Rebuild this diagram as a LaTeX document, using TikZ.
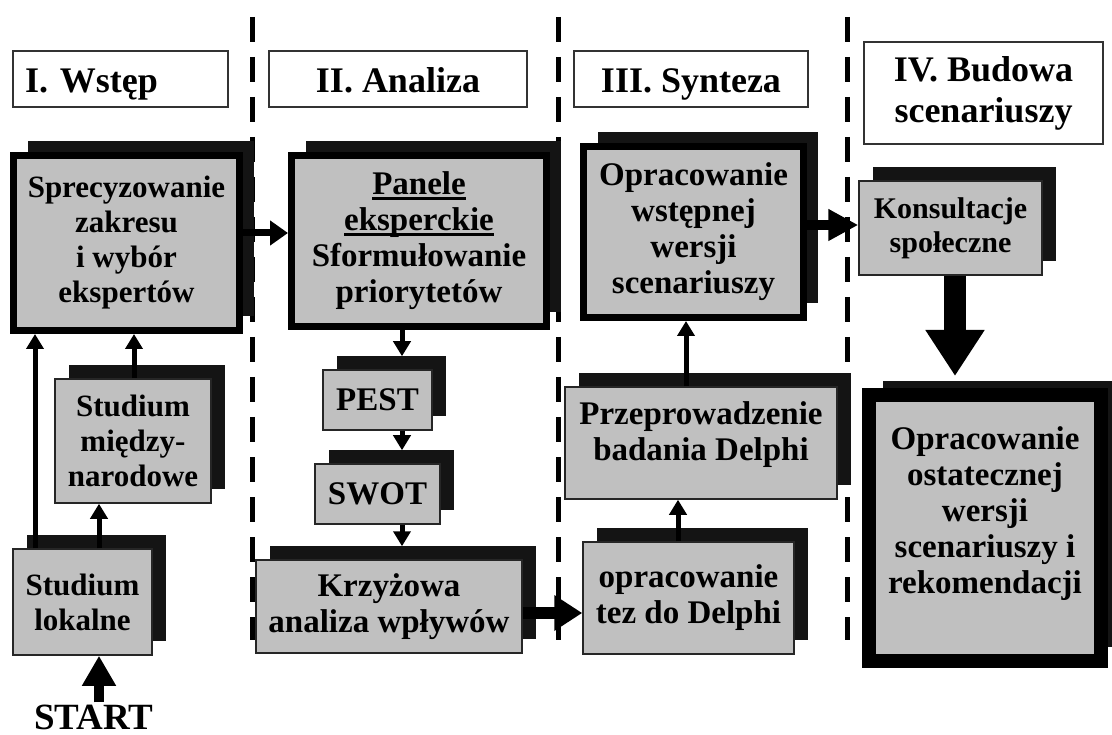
\documentclass[tikz,border=0pt]{standalone}
\usepackage{fontspec}
\setmainfont{Liberation Serif}
\usetikzlibrary{arrows.meta,shadows}
\definecolor{szary}{HTML}{C0C0C0}
\frenchspacing
\newcommand{\podkr}[1]{\leavevmode\setbox0=\hbox{#1}\copy0\kern-\wd0\raisebox{-5pt}{\rule{\wd0}{2.4pt}}}
\tikzset{
  % naglowki etapow
  etap/.style={draw=black!80,line width=1.4pt,fill=white,inner sep=0pt,align=center,
               font=\fontsize{36}{41}\selectfont\bfseries},
  etap1/.style={etap,text height=32pt,text depth=4pt,minimum height=56pt},
  % bloki
  blok/.style={draw=black!85,line width=1.5pt,fill=szary,inner sep=0pt,align=center,
               font=\fontsize{33}{36}\selectfont\bfseries,
               drop shadow={opacity=1,fill=black!92,shadow xshift=14pt,shadow yshift=14pt}},
  blokg/.style={blok,draw=black,line width=7pt},
  blokgg/.style={blok,draw=black,line width=14pt},
  mniej/.style={font=\fontsize{31}{35}\selectfont\bfseries},
  podzial/.style={draw=black,line width=5pt,dash pattern=on 25pt off 15pt},
  % strzalki
  strz/.style={-{Triangle[length=15pt,width=17pt]},line width=5pt},
  strzs/.style={-{Triangle[length=18pt,width=24pt]},line width=7pt},
  strzp/.style={-{Triangle[length=30pt,width=32pt]},line width=10pt},
  strzg/.style={-{Triangle[length=28pt,width=34pt]},line width=12pt},
  strzk/.style={-{Triangle[length=30pt,width=30pt]},line width=10pt},
  strzgg/.style={-{Triangle[length=46pt,width=56pt]},line width=22pt},
}

\begin{document}
\begin{tikzpicture}[x=1pt,y=-1pt]
  \useasboundingbox (0,0) rectangle (1112,735);
  % linie podzialu
  \draw[podzial] (252,17) -- (252,640);
  \draw[podzial] (558,17) -- (558,640);
  \draw[podzial] (847,17) -- (847,640);
  % naglowki
  \node[etap1,align=left,text width=191pt,inner xsep=12pt] (e1) at (120.5,79) {I. Wstęp};
  \node[etap1,minimum width=258pt] (e2) at (398,79) {II. Analiza};
  \node[etap1,minimum width=234pt] (e3) at (691,79) {III. Synteza};
  \node[etap,minimum width=239pt,minimum height=102pt] (e4) at (983.5,93) {IV. Budowa\\scenariuszy};
  % I. Wstep
  \node[blokg,mniej,minimum width=226pt,minimum height=175pt] (sprec) at (126.5,243) {Sprecyzowanie\\zakresu\\i wybór\\ekspertów};
  \node[blok,mniej,minimum width=156pt,minimum height=124pt] (miedz) at (133,441) {Studium\\między-\\narodowe};
  \node[blok,mniej,minimum width=139pt,minimum height=106pt] (lok) at (82.5,602) {Studium\\lokalne};
  \node[font=\fontsize{37}{40}\selectfont\bfseries,inner sep=2pt] (start) at (94,717) {START};
  % II. Analiza
  \node[blokg,minimum width=255pt,minimum height=171pt] (panele) at (419,241) {\podkr{Panele}\\\podkr{eksperckie}\\Sformułowanie\\priorytetów};
  \node[blok,minimum width=109pt,minimum height=60pt] (pest) at (377.5,400) {PEST};
  \node[blok,minimum width=125pt,minimum height=60pt] (swot) at (377.5,494) {SWOT};
  \node[blok,minimum width=266pt,minimum height=93pt] (krzyz) at (389,606.5) {Krzyżowa\\analiza wpływów};
  % III. Synteza
  \node[blokg,minimum width=220pt,minimum height=171pt] (wstep) at (693.5,232) {Opracowanie\\wstępnej\\wersji\\scenariuszy};
  \node[blok,minimum width=272pt,minimum height=112pt] (przep) at (701,443) {Przeprowadzenie\\badania Delphi\\[-12pt]\mbox{}};
  \node[blok,minimum width=211pt,minimum height=112pt] (tez) at (688.5,598) {opracowanie\\tez do Delphi};
  % IV. Budowa scenariuszy
  \node[blok,font=\fontsize{30}{34}\selectfont\bfseries,minimum width=183pt,minimum height=94pt] (kons) at (950.5,228) {Konsultacje\\społeczne};
  \node[blokgg,minimum width=232pt,minimum height=266pt] (ost) at (985,528) {Opracowanie\\ostatecznej\\wersji\\scenariuszy i\\rekomendacji\\\mbox{}};
  % osie strzalek
  \coordinate (osL1) at (35,0);
  \coordinate (osL2) at (99,0);
  \coordinate (osL3) at (134,0);
  \coordinate (osP) at (402,0);
  \coordinate (osS1) at (678,0);
  \coordinate (osS2) at (686,0);
  \coordinate (osB) at (955,0);
  \coordinate (osH1) at (0,233);
  \coordinate (osH2) at (0,613);
  \coordinate (osH3) at (0,225);
  % strzalki
  \draw[strzp] (start.north -| osL2) -- (lok.south -| osL2);
  \draw[strz] (lok.north -| osL1) -- (sprec.south -| osL1);
  \draw[strz] (lok.north -| osL2) -- (miedz.south -| osL2);
  \draw[strz] (miedz.north -| osL3) -- (sprec.south -| osL3);
  \draw[strzs] (sprec.east |- osH1) -- (panele.west |- osH1);
  \draw[strz,shorten >=13pt] (panele.south -| osP) -- (pest.north -| osP);
  \draw[strz,shorten >=13pt] (pest.south -| osP) -- (swot.north -| osP);
  \draw[strz,shorten >=13pt] (swot.south -| osP) -- (krzyz.north -| osP);
  \draw[strzg] (krzyz.east |- osH2) -- (tez.west |- osH2);
  \draw[strz] (tez.north -| osS1) -- (przep.south -| osS1);
  \draw[strz] (przep.north -| osS2) -- (wstep.south -| osS2);
  \draw[strzk] (wstep.east |- osH3) -- (kons.west |- osH3);
  \draw[strzgg,shorten >=12pt] (kons.south -| osB) -- (ost.north -| osB);
\end{tikzpicture}
\end{document}
